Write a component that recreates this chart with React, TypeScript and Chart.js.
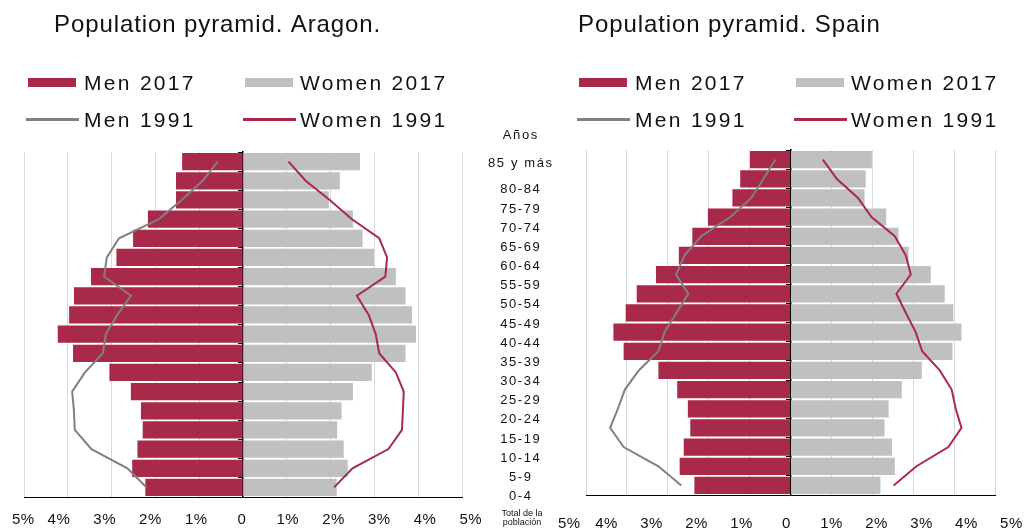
import React, { useEffect, useRef } from "react";
import { Chart, registerables } from "chart.js";

Chart.register(...registerables);

// ---------- data ----------
const AGE_GROUPS = [
  "85 y más", "80-84", "75-79", "70-74", "65-69", "60-64", "55-59", "50-54", "45-49",
  "40-44", "35-39", "30-34", "25-29", "20-24", "15-19", "10-14", "5-9", "0-4",
];
const AGE_HEADER = "Años";
const AXIS_TITLE_LINES = ["Total de la", "población"];
const X_TICKS = [-5, -4, -3, -2, -1, 0, 1, 2, 3, 4, 5];
const SERIES_LABELS = ["Men 2017", "Women 2017", "Men 1991", "Women 1991"];

const ARAGON_MEN_2017 = [1.39, 1.53, 1.53, 2.17, 2.51, 2.89, 3.47, 3.86, 3.97, 4.23, 3.88, 3.05, 2.56, 2.33, 2.29, 2.41, 2.53, 2.23];
const ARAGON_WOMEN_2017 = [2.67, 2.21, 1.96, 2.51, 2.73, 2.99, 3.49, 3.71, 3.86, 3.95, 3.71, 2.94, 2.51, 2.25, 2.15, 2.3, 2.39, 2.14];
const ARAGON_MEN_1991 = [0.58, 0.92, 1.4, 1.92, 2.83, 3.11, 3.17, 2.56, 2.87, 3.13, 3.2, 3.61, 3.9, 3.86, 3.84, 3.46, 2.64, 2.2];
const ARAGON_WOMEN_1991 = [1.04, 1.43, 1.98, 2.48, 3.11, 3.29, 3.25, 2.6, 2.87, 3.03, 3.11, 3.49, 3.67, 3.65, 3.63, 3.32, 2.5, 2.08];

const SPAIN_MEN_2017 = [0.99, 1.23, 1.42, 2.02, 2.4, 2.73, 3.29, 3.76, 4.03, 4.33, 4.08, 3.23, 2.77, 2.51, 2.45, 2.61, 2.71, 2.35];
const SPAIN_WOMEN_2017 = [1.99, 1.84, 1.81, 2.34, 2.64, 2.89, 3.43, 3.77, 3.98, 4.18, 3.96, 3.21, 2.72, 2.4, 2.3, 2.48, 2.55, 2.2];
const SPAIN_MEN_1991 = [0.37, 0.66, 0.96, 1.47, 2.18, 2.59, 2.8, 2.5, 2.79, 3.08, 3.23, 3.71, 4.05, 4.22, 4.41, 4.08, 3.23, 2.67];
const SPAIN_WOMEN_1991 = [0.79, 1.13, 1.65, 1.98, 2.55, 2.82, 2.94, 2.59, 2.82, 3.06, 3.22, 3.65, 3.94, 4.04, 4.18, 3.86, 3.08, 2.52];

// ---------- style ----------
const CRIMSON = "#A9294A";
const GREY_BAR = "#C0C0C0";
const GREY_LINE = "#808080";
const TEXT = "#111111";
const FONT = "'Liberation Sans', Arial, Helvetica, sans-serif";

const LEGEND_COLS = [
  { boxX: 28, lineX: 26, textX: 84 },
  { boxX: 245, lineX: 243, textX: 300 },
];
const LEGEND_ROWS = [
  { mid: 82.5, baseline: 89.5 },
  { mid: 119.5, baseline: 126.5 },
];

type PyramidProps = {
  title: string;
  men2017: number[];
  women2017: number[];
  men1991: number[];
  women1991: number[];
  left: number;
  width: number;
  padding: { left: number; right: number; top: number; bottom: number };
  titleX: number;
  legendDX: number;
  labelShift: number;
  labelSpread: number;
  labelMinLeft: number;
  labelY: number;
  showAgeLabels: boolean;
  ageLabelX: number;
};

function Pyramid(p: PyramidProps) {
  const ref = useRef<HTMLCanvasElement | null>(null);

  useEffect(() => {
    const canvas = ref.current;
    if (!canvas) return;

    const headerPlugin = {
      id: "header",
      afterDraw(chart: any) {
        const ctx = chart.ctx as CanvasRenderingContext2D;
        ctx.save();
        ctx.fillStyle = TEXT;
        ctx.textAlign = "left";
        ctx.textBaseline = "alphabetic";
        ctx.font = `24px ${FONT}`;
        (ctx as any).letterSpacing = "0.9px";
        ctx.fillText(p.title, p.titleX, 31.5);

        ctx.font = `21px ${FONT}`;
        (ctx as any).letterSpacing = "2.3px";
        chart.data.datasets.forEach((ds: any, i: number) => {
          const col = LEGEND_COLS[i % 2];
          const row = LEGEND_ROWS[Math.floor(i / 2)];
          if (ds.type === "bar") {
            ctx.fillStyle = ds.backgroundColor;
            ctx.fillRect(col.boxX + p.legendDX, row.mid - 4.5, 48, 9);
          } else {
            ctx.strokeStyle = ds.borderColor;
            ctx.lineWidth = 3;
            ctx.beginPath();
            ctx.moveTo(col.lineX + p.legendDX, row.mid);
            ctx.lineTo(col.lineX + p.legendDX + 53, row.mid);
            ctx.stroke();
          }
          ctx.fillStyle = TEXT;
          ctx.fillText(ds.label, col.textX + p.legendDX, row.baseline);
        });
        ctx.restore();
      },
    };

    const tickLabelPlugin = {
      id: "tickLabels",
      afterDraw(chart: any) {
        const ctx = chart.ctx as CanvasRenderingContext2D;
        const xs = chart.scales.x;
        const z = xs.getPixelForValue(0);
        ctx.save();
        ctx.fillStyle = TEXT;
        ctx.font = `15px ${FONT}`;
        (ctx as any).letterSpacing = "0.5px";
        ctx.textAlign = "center";
        ctx.textBaseline = "middle";
        X_TICKS.forEach((v) => {
          const label = v === 0 ? "0" : `${Math.abs(v)}%`;
          let x = z + p.labelShift + (xs.getPixelForValue(v) - z) * p.labelSpread;
          const w = ctx.measureText(label).width;
          if (x - w / 2 < p.labelMinLeft) x = p.labelMinLeft + w / 2;
          ctx.fillText(label, x, p.labelY);
        });
        ctx.restore();
      },
    };

    const ageLabelPlugin = {
      id: "ageLabels",
      afterDraw(chart: any) {
        if (!p.showAgeLabels) return;
        const ctx = chart.ctx as CanvasRenderingContext2D;
        const ys = chart.scales.y;
        const band = ys.getPixelForValue(1) - ys.getPixelForValue(0);
        const cx = p.ageLabelX;
        ctx.save();
        ctx.fillStyle = TEXT;
        ctx.textAlign = "center";
        ctx.textBaseline = "middle";
        ctx.font = `13px ${FONT}`;
        (ctx as any).letterSpacing = "1.6px";
        ctx.fillText(AGE_HEADER, cx + 0.8, ys.getPixelForValue(0) - 26);
        AGE_GROUPS.forEach((lab, i) => {
          const y = i === 0 ? ys.getPixelForValue(0) + 1.5 : ys.getPixelForValue(i) + band / 2 - 0.5;
          ctx.fillText(lab, cx + 0.8, y);
        });
        ctx.font = `9px ${FONT}`;
        (ctx as any).letterSpacing = "0px";
        const bottom = chart.chartArea.bottom;
        AXIS_TITLE_LINES.forEach((t, k) => {
          ctx.fillText(t, cx + 2, bottom + 17 + k * 9);
        });
        ctx.restore();
      },
    };

    const barCommon = {
      type: "bar",
      grouped: false,
      barPercentage: 0.9,
      categoryPercentage: 1,
      borderWidth: 0,
      order: 2,
    };
    const lineCommon = {
      type: "line",
      borderWidth: 2,
      pointRadius: 0,
      tension: 0,
      fill: false,
      order: 1,
    };

    const chart = new Chart(canvas, {
      type: "bar",
      data: {
        labels: AGE_GROUPS,
        datasets: [
          { ...barCommon, label: SERIES_LABELS[0], data: p.men2017.map((v) => -v), backgroundColor: CRIMSON },
          { ...barCommon, label: SERIES_LABELS[1], data: p.women2017, backgroundColor: GREY_BAR },
          { ...lineCommon, label: SERIES_LABELS[2], data: p.men1991.map((v) => -v), borderColor: GREY_LINE, backgroundColor: GREY_LINE },
          { ...lineCommon, label: SERIES_LABELS[3], data: p.women1991, borderColor: CRIMSON, backgroundColor: CRIMSON },
        ] as any,
      },
      options: {
        indexAxis: "y",
        responsive: false,
        maintainAspectRatio: false,
        animation: false,
        events: [],
        layout: { padding: p.padding },
        plugins: {
          legend: { display: false },
          title: { display: false },
          tooltip: { enabled: false },
        },
        scales: {
          x: {
            type: "linear",
            min: -5,
            max: 5,
            ticks: { display: false, stepSize: 1 },
            grid: {
              color: (c: any) => (c.tick && c.tick.value === 0 ? "rgba(0,0,0,0)" : "#D9D9D9"),
              lineWidth: 1,
              drawTicks: false,
            },
            border: { display: true, color: "#000000", width: 1 },
            afterFit: (s: any) => {
              s.height = 0;
            },
          },
          y: {
            type: "category",
            position: { x: 0 },
            offset: true,
            z: 1,
            ticks: { display: false },
            grid: { drawOnChartArea: false, drawTicks: true, tickLength: 4, color: "#000000", offset: true },
            border: { display: true, color: "#000000", width: 1.5 },
            afterFit: (s: any) => {
              s.width = 0;
            },
          },
        },
      } as any,
      plugins: [headerPlugin, tickLabelPlugin, ageLabelPlugin],
    });

    return () => chart.destroy();
  }, []);

  return (
    <canvas
      ref={ref}
      width={p.width}
      height={530}
      style={{ position: "absolute", left: p.left, top: 0, width: p.width, height: 530 }}
    />
  );
}

export default function App() {
  return (
    <div style={{ position: "absolute", left: 0, top: 0, width: 1026, height: 530, background: "#ffffff" }}>
      <Pyramid
        title="Population pyramid. Aragon."
        men2017={ARAGON_MEN_2017}
        women2017={ARAGON_WOMEN_2017}
        men1991={ARAGON_MEN_1991}
        women1991={ARAGON_WOMEN_1991}
        left={0}
        width={555}
        padding={{ left: 24, right: 93, top: 152, bottom: 33 }}
        titleX={54}
        legendDX={0}
        labelShift={-1}
        labelSpread={1.045}
        labelMinLeft={12}
        labelY={520}
        showAgeLabels={true}
        ageLabelX={520}
      />
      <Pyramid
        title="Population pyramid. Spain"
        men2017={SPAIN_MEN_2017}
        women2017={SPAIN_WOMEN_2017}
        men1991={SPAIN_MEN_1991}
        women1991={SPAIN_WOMEN_1991}
        left={555}
        width={471}
        padding={{ left: 31, right: 31, top: 150, bottom: 35 }}
        titleX={23}
        legendDX={-4}
        labelShift={-4}
        labelSpread={1.1}
        labelMinLeft={3}
        labelY={523.5}
        showAgeLabels={false}
        ageLabelX={0}
      />
    </div>
  );
}
